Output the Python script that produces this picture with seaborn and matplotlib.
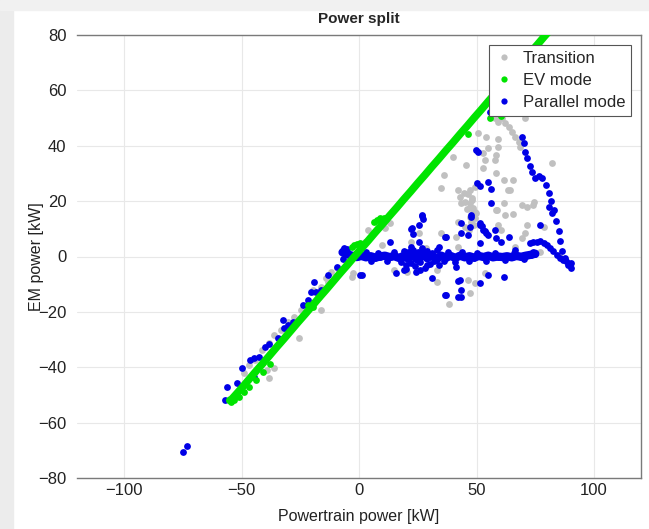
import pandas as pd
import matplotlib.pyplot as plt
import seaborn as sns
import numpy as np
from matplotlib.patches import Rectangle
from matplotlib.lines import Line2D

# Transition points (powertrain power, EM power) in kW
trans_x = [57.7, 59, 62, 64, 65.3, 66.5, 68.2, 68.6, 59, 61, 70.7,
           50.6, 54, 59, 54.8, 59, 52.7, 58.2, 40.2, 53.6, 57.7, 45.6, 52.7, 36, 58.2, 61.9,
           35.1, 42.3, 47.3, 63.2, 49.4, 43.1, 45.2, 47.3, 48.5, 49.8, 49.4, 61.9, 64.4, 82,
           65.7, 74, 71.5, 78.6, 65.7, 58.6,
           46.5, 48, 46, 48.6, 47.5, 49, 46.8, 48.2, 44.5,
           43.5, 47.3, 49.4, 47.3, 42.3, 45.2, 58.2, 62.3, 69.5, 74.5, 59, 60.3, 35.1, 25.5,
           41.4, 71.5, 70.7, 69.5, 28.5, 42.3, 66.5, 77, 85, 33.1, 46.4, 33.1, 49.4, 47.3,
           38.1, 53.6, 22.2, 20.5,
           13, 10.9, 3.8, 9.6, 2.5, 15.1, -2.9, -12.1, -14.2, -16.3, -19.7, -17.2, -2.5, -9.2,
           -13.4, -19.2, -16.3, -21.8, -24.7, -27.6, -30.1, -33, -36, -25.5, -38.5, -41.4,
           -36, -39.3, -38.5, -49, -46.9, -44.4]
trans_y = [50.2, 48.7, 48.3, 46.9, 45.1, 43.3, 41.5, 39.7, 51.3, 50, 50.2,
           44.7, 43.3, 42.6, 39.3, 39.7, 37.5, 36.8, 36.1, 35, 35, 33.2, 32.1, 29.5, 30.3, 27.7,
           24.8, 24.1, 24.1, 24.1, 25.2, 21.6, 19.8, 19.4, 17.5, 15.7, 13.9, 19.4, 24.1, 33.9,
           27.7, 18.7, 18, 10.7, 15.4, 16.8,
           22.5, 21, 17, 16, 12.5, 11.5, 9.5, 20.3, 22.8,
           19.4, 18, 16.1, 14.3, 12.5, 10.7, 16.8, 15, 18.7, 19.7, 11.4, 9.6, 8.5, 8.5,
           7.1, 11.4, 8.5, 6.7, 3, 3.4, 3.4, 1.6, 0.5, -4.9, -8.5, -9.2, -9.6, -13.2,
           -17.2, -6, 5.3, -5.6,
           12, 10.3, 9.6, 4.2, 5.3, -4.9, -7.4, -5.6, -7.8, -11, -12.1, -14.7, -6, -4.2,
           -9.2, -12.9, -19.4, -16.8, -19.4, -21.9, -23.7, -26.6, -28.4, -29.5, -31.3, -33.9,
           -40.4, -41.1, -44, -42.2, -39.3, -37.5]

# EV mode: main diagonal trace
ev_line_x = [-55, -54, -52, -50, -47, -44, -41, -38, -35, -32, -29, -26, -23, -20, -17, -14,
             -11, -8, -5, -2, 1, 4, 7, 10, 13, 16, 19, 22, 25, 28, 31, 34, 37, 40, 43, 46,
             49, 52, 55, 58, 61, 64, 67, 70, 73, 76, 79, 81]
ev_line_y = [-52.0, -51.4, -49.5, -47.6, -44.6, -41.6, -38.7, -35.7, -32.7, -29.8, -26.8,
             -23.8, -20.9, -17.9, -14.9, -12.0, -9.0, -6.0, -3.1, -0.1, 2.9, 5.8, 8.8, 11.7,
             14.7, 17.6, 20.6, 23.5, 26.5, 29.4, 32.4, 35.3, 38.3, 41.2, 44.2, 47.1, 50.1,
             53.0, 56.0, 58.9, 61.9, 64.8, 67.8, 70.7, 73.7, 76.6, 79.6, 81.5]
# EV mode: hooks and stray points
ev_x = [-54.5, -53, -51, -49, -47, -44, -41, -38,
        -3, -2, -1, 0.5, 1.5, 6.5, 7.5, 9, 10.5, 11.5,
        -21.5, -20.5, -19.5, 46.4, 55.6, 60.3]
ev_y = [-52.6, -52.0, -50.6, -49.0, -47.3, -44.5, -41.6, -38.7,
        3.5, 4.2, 4.6, 4.8, 4.2, 12.3, 13.2, 13.8, 14.0, 13.5,
        -17.5, -18.0, -18.3, 44.4, 50.2, 50.9]

# Parallel mode: near-zero band
band_x = [-7, -5, -3, -1, 1, 3, 5, 7, 9, 11, 13, 15, 17, 19, 21, 23, 25, 27, 29, 31, 33,
          35, 37, 39, 41, 43, 45, 47, 49, 51, 53, 55, 57, 59, 61, 63, 65, 67, 69, 71, 73, 75]
band_y = [1.5, 0.8, 0.3, -0.2, 0.2, -0.3, 0.1, -0.4, 0.0, 0.3, -0.2, 0.1, -0.5, 0.2, -0.8,
          0.6, -1.2, 0.9, -0.6, 0.4, -1.0, 0.3, -0.4, 0.2, -0.5, 0.3, -0.3, 0.1, -0.4, 0.2,
          -0.2, 0.3, -0.3, 0.0, -0.2, 0.1, -0.3, 0.2, -0.1, 0.3, 0.6, 1.0]
# Parallel mode: scattered points
par_x = [-75, -73,
         -56.9, -56.1, -51.9, -49.8, -44.8, -46.4, -44.8, -42.7, -40.2, -38.1, -34.3, -31.8,
         -30.1, -32.2, -28, -23.8, -21.8, -20.5, -18.4, -19.2, -16.3, -13, -9.2,
         -7, -6.5, -7, -5,
         18, 19, 20, 21, 22, 23, 24, 25, 26, 27, 28, 29, 30, 31, 32, 33, 20, 22, 26, 29,
         15, 12, 8, 5, 3, 36, 38, 41, 44, 47, 50, 54, 58, 62, 66, 70, 74,
         26.8, 25.5, 22.2, 25.5, 33.9, 37.2, 43.5, 47.3, 46.4, 47.7, 51.5, 52.7, 54, 51.5,
         56.1, 57.7, 58.2, 60.3, 64, 66.5, 77, 13, 43.5, 51.5, 36.8, 22.6, 27.2, 23,
         55.6, 49.8, 54.8, 56.1, 50.2, 26.8, 47.7, 50.6, 51.5, 52.5, 53.8, 55,
         19.2, 24.3, 31, 42.3, 43.5, 37.2, 42.3, 43.5, 51.5, 54.8, 61.9, 41.4, 33.9, 15.9,
         1.3, 0.4, 43.1, 36.8,
         70.7, 71.5, 72.8, 73.5, 74.9, 76.5, 77.8, 79.5, 80.8, 81.5, 82.8, 84, 84.9, 85.5,
         86.2, 87.5, 89.1, 90.4, 90, 70, 69.5, 80.8, 82,
         72.8, 74, 75.7, 77, 78.7, 80, 81.2, 82.5, 84.1, 85.5, 87, 88, 89.1]
par_y = [-70.5, -68.5,
         -52, -47.3, -45.8, -40.4, -43.7, -37.5, -36.8, -36.4, -32.8, -31.7, -29.5, -25.9,
         -24.8, -23, -23.7, -17.6, -15.8, -12.9, -12.9, -9.2, -12.1, -6.7, -3.8,
         2.5, 3, -0.8, 2.8,
         -2, 2, -3, 1.8, -2.5, 2.5, -3.5, 1.5, -2, 3, -4, 2, -2.8, 1.2, -1.5, 2.3, -4.5, 3.5,
         -4.8, -3.2,
         1.8, -1.6, 1.4, -1.5, 1.5, -1.8, 1.6, -2.1, 1.5, -1.6, 1.3, -1.5, 1.2, -1.2, 1.1,
         -0.8, 1.5,
         15, 11.4, 10, 5.3, 3.4, 7.1, 8.5, 10.7, 7.8, 15, 12.1, 9.6, 8.5, 4.9,
         19.4, 9.6, 6.7, 5.3, 7.1, 2.4, 11.4, 5.3, 12.1, 11.4, 7.1, 10.3, 13.6, 8.2,
         52.3, 38.6, 27, 24.5, 26.6, 14.7, 14.3, 37.9, 25.5, 11, 9.2, 7.8,
         -4.9, -5.6, -7.8, -8.9, -12.1, -13.9, -14.7, -14.7, -9.6, -6.7, -7.4, -3.8, -3.1, -6,
         -6.7, -6.7, -8.5, -13.9,
         37.9, 35.5, 32.8, 30.5, 28.4, 29, 28.4, 26, 23, 20, 16.8, 13, 9.2, 5.5,
         2, -0.5, -3, -4, -2.5, 41, 43, 18, 15.7,
         4.9, 5.4, 5.3, 5.6, 4.9, 4, 3, 2, 0.5, -0.4, -1.3, -1.8, -2.4]

c_trans = "#c0c0c0"
c_ev = "#00e400"
c_par = "#0000e6"

sns.set_theme(style="white")
plt.rcParams['font.family'] = ['Liberation Sans', 'DejaVu Sans']

fig = plt.figure(figsize=(6.49, 5.29), dpi=100)
fig.patches.append(Rectangle((0, 0), 13 / 649, 1, transform=fig.transFigure,
                             color="#ececec", zorder=-10))
fig.patches.append(Rectangle((0, 1 - 10 / 529), 1, 10 / 529, transform=fig.transFigure,
                             color="#f1f1f1", zorder=-10))
ax = fig.add_axes([77 / 649, 1 - 478 / 529, (641 - 77) / 649, (478 - 35) / 529])

dot = 24
sns.scatterplot(x=trans_x, y=trans_y, ax=ax, color=c_trans, s=dot, linewidth=0, zorder=2)
sns.lineplot(x=band_x, y=band_y, ax=ax, color=c_par, linewidth=6, sort=False,
             estimator=None, zorder=3)
sns.scatterplot(x=band_x, y=band_y, ax=ax, color=c_par, s=dot, linewidth=0, zorder=3)
sns.scatterplot(x=par_x, y=par_y, ax=ax, color=c_par, s=dot, linewidth=0, zorder=3)
sns.lineplot(x=ev_line_x, y=ev_line_y, ax=ax, color=c_ev, linewidth=5.5, sort=False,
             estimator=None, zorder=4)
sns.scatterplot(x=ev_x, y=ev_y, ax=ax, color=c_ev, s=dot, linewidth=0, zorder=4)

ax.set_xlim(-120, 120)
ax.set_ylim(-80, 80)
ax.set_xticks([-100, -50, 0, 50, 100])
ax.set_yticks([-80, -60, -40, -20, 0, 20, 40, 60, 80])
ax.grid(True, color="#e8e8e8", linewidth=0.8)
ax.set_axisbelow(True)
for side in ["top", "right", "bottom"]:
    ax.spines[side].set_color("#7a7a7a")
    ax.spines[side].set_linewidth(1.0)
ax.spines["left"].set_visible(False)
ax.tick_params(axis="both", labelsize=12, colors="#222222", length=4, width=0.8,
               direction="out")
ax.tick_params(axis="y", color="#aaaaaa")
ax.tick_params(axis="x", length=0)

ax.set_xlabel("Powertrain power [kW]", fontsize=11.5, color="#222222", labelpad=8)
ax.set_ylabel("EM power [kW]", fontsize=11.5, color="#222222", labelpad=-4)
ax.set_title("Power split", fontsize=11, fontweight="bold", pad=9)

handles = [Line2D([], [], linestyle="none", marker="o", markersize=4.5, color=c, markeredgewidth=0)
           for c in [c_trans, c_ev, c_par]]
leg = ax.legend(handles, ["Transition", "EV mode", "Parallel mode"], loc="upper right",
                fontsize=12, frameon=True, fancybox=False, edgecolor="#555555",
                borderaxespad=0.6, labelspacing=0.42, handletextpad=0.5, handlelength=1.2,
                borderpad=0.35, framealpha=1)
leg.get_frame().set_linewidth(0.8)

fig.savefig("out.png", dpi=100)
